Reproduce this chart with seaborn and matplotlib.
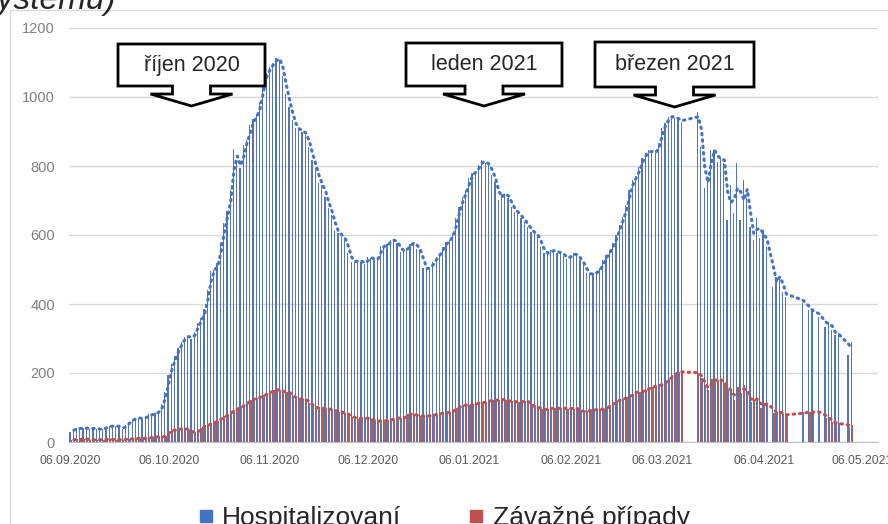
import numpy as np
import pandas as pd
import matplotlib
matplotlib.use("Agg")
import matplotlib.pyplot as plt
import seaborn as sns
from matplotlib.patches import Polygon, Rectangle
from matplotlib.lines import Line2D

nan = np.nan

# daily values from 06.09.2020
hosp = [
    30, 38, 40, 39, 40, 40, 38, 40, 39, 36,
    38, 44, 46, 45, 47, 44, 38, 50, 58, 66,
    70, 69, 68, 72, 80, 78, 85, 88, 110, 145,
    195, 225, 250, 272, 290, 305, 306, 300, 318, 345,
    358, 385, 440, 495, 500, 520, 580, 635, 670, 730,
    850, 808, 795, 861, 875, 919, 935, 950, 985, 1045,
    1070, 1088, 1098, 1113, 1108, 1060, 1010, 972, 933, 910,
    905, 900, 890, 856, 817, 795, 750, 745, 711, 678,
    658, 612, 605, 595, 585, 548, 523, 523, 527, 522,
    515, 536, 533, 527, 533, 568, 568, 574, 585, 585,
    576, 552, 556, 561, 574, 581, 560, 556, 503, 503,
    506, 523, 536, 548, 566, 581, 585, 605, 648, 682,
    711, 730, 765, 780, 785, 803, 817, 808, 803, 774,
    755, 700, 720, 720, 706, 682, 668, 663, 648, 639,
    624, 610, 605, 595, 566, 547, 547, 556, 554, 549,
    549, 539, 530, 542, 547, 539, 527, 513, 490, 485,
    490, 492, 503, 527, 542, 556, 576, 600, 629, 653,
    687, 730, 759, 771, 798, 822, 837, 845, 839, 839,
    866, 910, 924, 943, 943, 940, 935, 928, nan, nan,
    nan, nan, 957, 856, 736, 769, 846, 846, 813, 827,
    808, 643, 745, 663, 808, 643, 759, 706, 624, 585,
    648, 590, 614, 566, nan, 450, 479, 479, 436, 421,
    nan, nan, nan, nan, 402, nan, 383, 380, nan, 363,
    nan, 334, 348, 325, 310, 315, nan, nan, 252, 290,
]

zavazne = [
    5, 8, 8, 7, 9, 8, 6, 7, 6, 8,
    7, 8, 8, 7, 6, 8, 6, 9, 10, 8,
    12, 10, 11, 10, 12, 15, 16, 14, 15, 18,
    33, 34, 35, 37, 40, 38, 35, 27, 28, 32,
    42, 48, 50, 54, 58, 62, 70, 74, 80, 88,
    93, 98, 102, 108, 115, 122, 125, 128, 131, 136,
    140, 145, 150, 152, 150, 145, 146, 140, 131, 126,
    125, 124, 122, 112, 105, 98, 98, 98, 97, 95,
    93, 90, 88, 85, 83, 78, 73, 69, 68, 69,
    70, 68, 66, 60, 61, 62, 61, 63, 65, 68,
    70, 69, 70, 80, 82, 81, 74, 76, 75, 77,
    75, 80, 81, 82, 85, 86, 86, 91, 98, 104,
    107, 107, 108, 107, 112, 115, 114, 116, 120, 122,
    121, 122, 124, 122, 117, 118, 116, 117, 117, 118,
    116, 103, 102, 100, 95, 94, 96, 98, 99, 97,
    98, 98, 96, 98, 97, 96, 92, 85, 90, 93,
    94, 93, 95, 96, 100, 107, 112, 120, 122, 125,
    131, 133, 140, 146, 146, 148, 150, 158, 160, 162,
    165, 168, 175, 182, 194, 198, 204, 203, nan, nan,
    nan, nan, 199, 185, 165, 150, 182, 178, 180, 180,
    172, 150, 150, 122, 160, 143, 165, 136, 117, 122,
    127, 98, 112, 110, nan, 83, 88, 86, 80, 78,
    nan, nan, nan, nan, 88, nan, 86, 88, nan, 86,
    nan, 69, 70, 59, 54, 54, nan, nan, 44, 48,
]

tick_dates = ["2020-09-06", "2020-10-06", "2020-11-06", "2020-12-06", "2021-01-06",
              "2021-02-06", "2021-03-06", "2021-04-06", "2021-05-06"]

callouts = [("říjen 2020", 118, 265, 44, 86),
            ("leden 2021", 406, 562, 43, 86),
            ("březen 2021", 595, 754, 42, 87)]

blue = "#4472C4"
red = "#C0504D"
start = pd.Timestamp("2020-09-06")

df = pd.DataFrame({"den": np.arange(len(hosp)),
                   "Hospitalizovaní": hosp,
                   "Závažné případy": zavazne})
long = df.melt(id_vars="den", var_name="serie", value_name="pocet").dropna()

sns.set_style("white")
plt.rcParams["font.family"] = ["Liberation Sans", "DejaVu Sans"]

W, H = 888, 524
fig = plt.figure(figsize=(W / 100, H / 100), dpi=100)
ax = fig.add_axes([69 / W, 1 - 442 / H, (878 - 69) / W, (442 - 28) / H])

sns.barplot(data=long, x="den", y="pocet", hue="serie",
            hue_order=["Hospitalizovaní", "Závažné případy"],
            palette=[blue, red], native_scale=True, errorbar=None,
            width=0.75, linewidth=0, legend=False, ax=ax)

# moving average (period 2) as dotted line
for col, c in [("Hospitalizovaní", blue), ("Závažné případy", red)]:
    s = df[["den", col]].dropna().copy()
    s["ma"] = s[col].rolling(2).mean()
    sns.lineplot(data=s, x="den", y="ma", color=c, lw=2.2,
                 linestyle=(0, (0.5, 1.6)), dash_capstyle="round", ax=ax)

ax.set_xlim(-0.5, 247)
ax.set_ylim(0, 1200)
ax.set_yticks(range(0, 1201, 200))
ax.yaxis.grid(True, color="#D9D9D9", lw=1)
ax.xaxis.grid(False)
ax.set_axisbelow(True)
for sp in ["top", "right", "left"]:
    ax.spines[sp].set_visible(False)
ax.spines["bottom"].set_color("#BFBFBF")

tpos = (pd.to_datetime(tick_dates) - start).days
ax.set_xticks(tpos)
ax.set_xticklabels(pd.to_datetime(tick_dates).strftime("%d.%m.%Y"))
ax.tick_params(axis="x", length=4, color="#BFBFBF", labelcolor="#595959",
               labelsize=8.8, pad=5)
ax.tick_params(axis="y", length=0, labelcolor="#7F7F7F", labelsize=10.5, pad=10)
ax.set_xlabel("")
ax.set_ylabel("")


def fx(x):
    return x / W


def fy(y):
    return 1 - y / H


# callouts with down arrows
for label, x0, x1, y0, y1 in callouts:
    cx = (x0 + x1) / 2
    pts = [(x0, y0), (x1, y0), (x1, y1), (cx + 19, y1), (cx + 19, y1 + 8),
           (cx + 41, y1 + 8), (cx, y1 + 20), (cx - 41, y1 + 8), (cx - 19, y1 + 8),
           (cx - 19, y1), (x0, y1)]
    poly = Polygon([(fx(a), fy(b)) for a, b in pts], closed=True, facecolor="white",
                   edgecolor="black", lw=2, transform=fig.transFigure, zorder=5)
    fig.add_artist(poly)
    fig.text(fx(cx), fy((y0 + y1) / 2), label, ha="center", va="center",
             fontsize=15.5, zorder=6)

# chart frame
fig.add_artist(Line2D([fx(10), fx(10)], [0, fy(10)], color="#D9D9D9", lw=1,
                      transform=fig.transFigure))
fig.add_artist(Line2D([fx(10), 1], [fy(10), fy(10)], color="#D9D9D9", lw=1,
                      transform=fig.transFigure))

# cut title
fig.text(fx(117), fy(9), "systému)", ha="right", va="baseline", fontsize=24,
         style="italic")

# legend at bottom
fig.add_artist(Rectangle((fx(200), fy(522)), 12 / W, 12 / H, color=blue,
                         transform=fig.transFigure))
fig.text(fx(222), fy(525), "Hospitalizovaní", ha="left", va="baseline", fontsize=19)
fig.add_artist(Rectangle((fx(470), fy(522)), 12 / W, 12 / H, color=red,
                         transform=fig.transFigure))
fig.text(fx(493), fy(525), "Závažné případy", ha="left", va="baseline", fontsize=19)

fig.savefig("out.png", dpi=100)
